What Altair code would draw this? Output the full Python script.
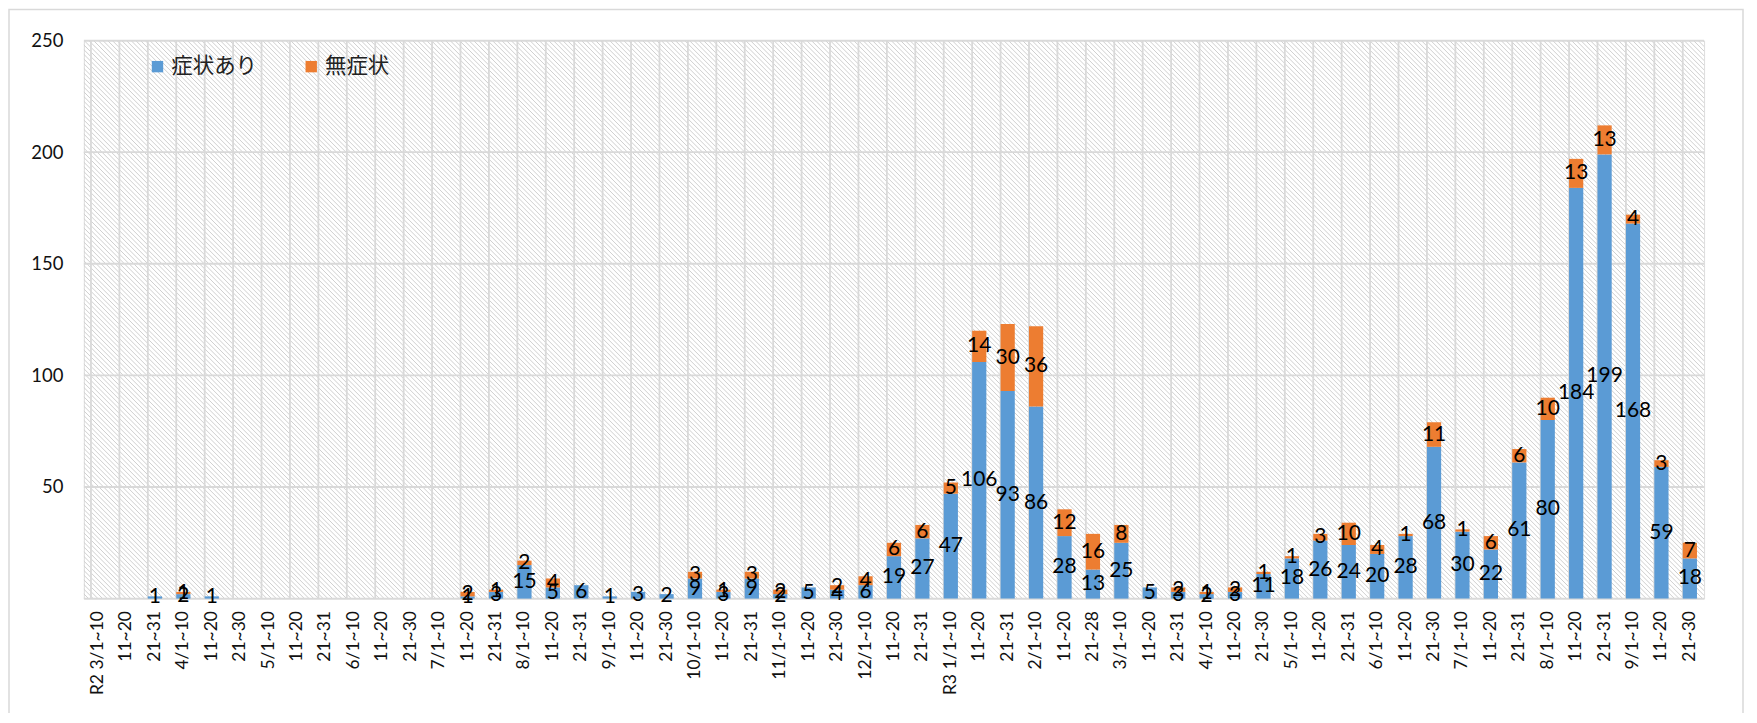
import json
import altair as alt
import numpy as np
import pandas as pd

# ---- data ----
labels = ["R2 3/1~10", "11~20", "21~31", "4/1~10", "11~20", "21~30", "5/1~10", "11~20", "21~31",
          "6/1~10", "11~20", "21~30", "7/1~10", "11~20", "21~31", "8/1~10", "11~20", "21~31",
          "9/1~10", "11~20", "21~30", "10/1~10", "11~20", "21~31", "11/1~10", "11~20", "21~30",
          "12/1~10", "11~20", "21~31", "R3 1/1~10", "11~20", "21~31", "2/1~10", "11~20", "21~28",
          "3/1~10", "11~20", "21~31", "4/1~10", "11~20", "21~30", "5/1~10", "11~20", "21~31",
          "6/1~10", "11~20", "21~30", "7/1~10", "11~20", "21~31", "8/1~10", "11~20", "21~31",
          "9/1~10", "11~20", "21~30"]
symptomatic = [0, 0, 1, 2, 1, 0, 0, 0, 0, 0, 0, 0, 0, 1, 3, 15, 5, 6, 1, 3, 2, 9, 3, 9, 2, 5, 4, 6,
               19, 27, 47, 106, 93, 86, 28, 13, 25, 5, 3, 2, 3, 11, 18, 26, 24, 20, 28, 68, 30, 22,
               61, 80, 184, 199, 168, 59, 18]
asymptomatic = [0, 0, 0, 1, 0, 0, 0, 0, 0, 0, 0, 0, 0, 2, 1, 2, 4, 0, 0, 0, 0, 3, 1, 3, 2, 0, 2, 4,
                6, 6, 5, 14, 30, 36, 12, 16, 8, 0, 2, 1, 2, 1, 1, 3, 10, 4, 1, 11, 1, 6, 6, 10, 13,
                13, 4, 3, 7]
series_names = ["症状あり", "無症状"]
series_colors = ["#5B9BD5", "#ED7D31"]
y_ticks = [0, 50, 100, 150, 200, 250]

# ---- layout ----
W, H = 1623, 559
PL, PT = 76, 32
GRID = "#d9d9d9"
FONT = "Lato"

rows = []
for i, (s, a) in enumerate(zip(symptomatic, asymptomatic)):
    rows.append({"idx": i, "series": series_names[0], "value": s, "order": 0})
    rows.append({"idx": i, "series": series_names[1], "value": a, "order": 1})
df = pd.DataFrame(rows)
df_cat = pd.DataFrame({"idx": list(range(len(labels)))})
df_y = pd.DataFrame({"v": y_ticks})

# background hatch (decoration, in pixel space)
step = 4.7
cs = np.arange(-H, W + step, step)
hatch_df = pd.DataFrame({"x1": cs, "x2": cs + H, "y1": H, "y2": 0})

label_expr = json.dumps(labels, ensure_ascii=False) + "[datum.value]"

xscale = alt.Scale(paddingInner=0.5, paddingOuter=0.25)
yscale = alt.Scale(domain=[0, 250], nice=False)
x_axis = alt.Axis(title=None, labelExpr=label_expr, labelAngle=-90, labelFont=FONT,
                  labelFontSize=17.5, labelColor="#111", labelPadding=12, ticks=False,
                  domain=False, grid=False, labelOverlap=False, labelBound=False)
y_axis = alt.Axis(title=None, values=y_ticks, labelExpr="datum.value == 0 ? '' : datum.label",
                  labelFont=FONT, labelFontSize=18.5, labelColor="#111", labelPadding=21,
                  ticks=False, domain=False, grid=False)

frame = alt.Chart(pd.DataFrame({"a": [0]})).mark_rect(
    fillOpacity=0, stroke=GRID, strokeWidth=1.5
).encode(x=alt.value(-PL + 1), x2=alt.value(1662), y=alt.value(-PT + 1), y2=alt.value(720))

hatch = alt.Chart(hatch_df).mark_rule(clip=True, color="#cfcfcf", strokeWidth=1).encode(
    x=alt.X("x1:Q", scale=alt.Scale(domain=[0, W], nice=False, zero=False), axis=None),
    x2="x2:Q",
    y=alt.Y("y1:Q", scale=alt.Scale(domain=[0, H], nice=False, zero=False), axis=None),
    y2="y2:Q",
)

vgrid = alt.Chart(df_cat).mark_rule(color=GRID, strokeWidth=1.8).encode(
    x=alt.X("idx:O", scale=xscale, axis=x_axis, bandPosition=0)
)
hgrid = alt.Chart(df_y).mark_rule(color=GRID, strokeWidth=1.8).encode(
    y=alt.Y("v:Q", scale=yscale, axis=y_axis)
)

bars = alt.Chart(df).mark_bar().encode(
    x=alt.X("idx:O", scale=xscale, axis=x_axis),
    y=alt.Y("value:Q", stack="zero", scale=yscale, axis=y_axis),
    color=alt.Color("series:N", scale=alt.Scale(domain=series_names, range=series_colors),
                    sort=series_names,
                    legend=alt.Legend(title=None, orient="none", legendX=63, legendY=15,
                                      direction="horizontal", symbolType="square",
                                      symbolSize=130, symbolStrokeWidth=0,
                                      labelFont="Noto Sans CJK JP", labelFontSize=21.5,
                                      labelColor="#222", labelOffset=3, columnPadding=43)),
    order=alt.Order("order:Q"),
)

texts = alt.Chart(df).transform_stack(
    stack="value", groupby=["idx"], as_=["y0", "y1"], sort=[alt.SortField("order")]
).transform_filter("datum.value > 0").transform_calculate(
    mid="(datum.y0 + datum.y1) / 2"
).mark_text(font=FONT, fontSize=21, color="#000", baseline="middle").encode(
    x=alt.X("idx:O", scale=xscale, axis=x_axis),
    y=alt.Y("mid:Q", scale=yscale, axis=y_axis),
    text="value:Q",
)

inner = alt.layer(vgrid, hgrid, bars, texts)
chart = alt.layer(frame, hatch, inner).resolve_scale(
    x="independent", y="independent"
).properties(
    width=W, height=H,
    autosize=alt.AutoSizeParams(type="none"),
    padding={"left": PL, "top": PT, "right": 45, "bottom": 114},
).configure_view(stroke=GRID, strokeWidth=1.8).configure(background="white")

chart.save("out.html", embed_options={"renderer": "svg", "actions": False})
